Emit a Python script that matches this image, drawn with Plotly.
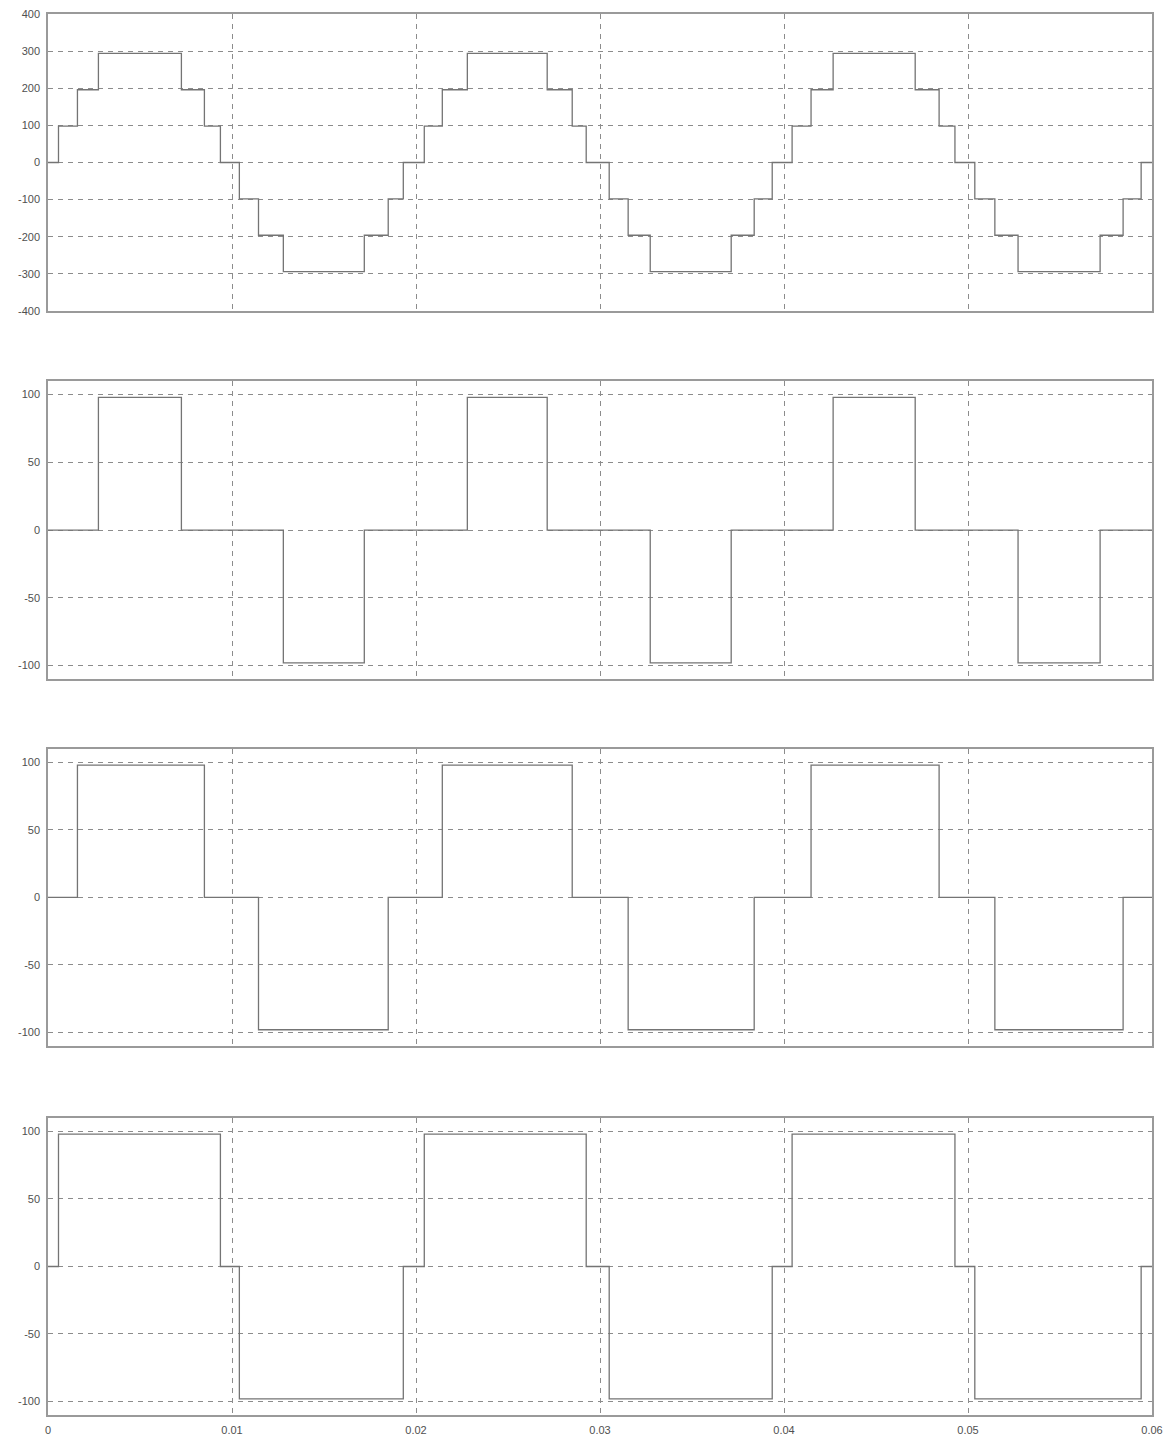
import plotly.graph_objects as go

# ---- data (switching instants in s, levels in V) ----
t_total = [0, 0.00057, 0.00160, 0.00274, 0.00725, 0.00850, 0.00937, 0.01040, 0.01144, 0.01279,
           0.01719, 0.01849, 0.01931, 0.02045, 0.02143, 0.02279, 0.02713, 0.02849, 0.02925,
           0.03050, 0.03153, 0.03273, 0.03713, 0.03838, 0.03936, 0.04044, 0.04147, 0.04267,
           0.04713, 0.04843, 0.04929, 0.05037, 0.05146, 0.05272, 0.05718, 0.05843, 0.05941, 0.06]
v_total = [0, 98, 196, 294, 196, 98, 0, -98, -196, -294,
           -196, -98, 0, 98, 196, 294, 196, 98, 0,
           -98, -196, -294, -196, -98, 0, 98, 196, 294,
           196, 98, 0, -98, -196, -294, -196, -98, 0, 0]

t_cell3 = [0, 0.00274, 0.00725, 0.01279, 0.01719, 0.02279, 0.02713, 0.03273, 0.03713,
           0.04267, 0.04713, 0.05272, 0.05718, 0.06]
v_cell3 = [0, 98, 0, -98, 0, 98, 0, -98, 0, 98, 0, -98, 0, 0]

t_cell2 = [0, 0.00160, 0.00850, 0.01144, 0.01849, 0.02143, 0.02849, 0.03153, 0.03838,
           0.04147, 0.04843, 0.05146, 0.05843, 0.06]
v_cell2 = [0, 98, 0, -98, 0, 98, 0, -98, 0, 98, 0, -98, 0, 0]

t_cell1 = [0, 0.00057, 0.00937, 0.01040, 0.01931, 0.02045, 0.02925, 0.03050, 0.03936,
           0.04044, 0.04929, 0.05037, 0.05941, 0.06]
v_cell1 = [0, 98, 0, -98, 0, 98, 0, -98, 0, 98, 0, -98, 0, 0]

x_ticks = [0, 0.01, 0.02, 0.03, 0.04, 0.05, 0.06]
x_tick_labels = ["0", "0.01", "0.02", "0.03", "0.04", "0.05", "0.06"]
y_ticks_top = [-400, -300, -200, -100, 0, 100, 200, 300, 400]
y_ticks_cell = [-100, -50, 0, 50, 100]

series = [(t_total, v_total), (t_cell3, v_cell3), (t_cell2, v_cell2), (t_cell1, v_cell1)]
domains = [[0.788, 1.0], [0.5253, 0.7380], [0.2634, 0.4754], [0.0, 0.2120]]
yranges = [[-400, 400], [-110, 110], [-110, 110], [-110, 110]]
yticks = [y_ticks_top, y_ticks_cell, y_ticks_cell, y_ticks_cell]

fig = go.Figure()
font = dict(family="Liberation Sans, Arial, sans-serif", size=11, color="#505050")

for i, (tx, vy) in enumerate(series):
    n = "" if i == 0 else str(i + 1)
    fig.add_trace(go.Scatter(
        x=tx, y=vy, mode="lines", line=dict(shape="hv", color="#747474", width=1.3),
        xaxis="x" + n, yaxis="y" + n, showlegend=False, hoverinfo="skip"))
    axis_common = dict(showline=True, linecolor="#9a9a9a", linewidth=1.5, mirror=True,
                       showgrid=True, gridcolor="#8c8c8c", gridwidth=1, griddash="5px,5px",
                       zeroline=False, ticks="", tickfont=font)
    fig.layout["xaxis" + n] = dict(
        axis_common, domain=[0, 1], range=[0, 0.06], anchor="y" + n,
        tickvals=x_ticks, ticktext=x_tick_labels, showticklabels=(i == 3),
        ticklabelstandoff=4, automargin=False)
    fig.layout["yaxis" + n] = dict(
        axis_common, domain=domains[i], range=yranges[i], anchor="x" + n,
        tickvals=yticks[i], ticktext=[str(v) for v in yticks[i]],
        ticklabelstandoff=4, automargin=False)

fig.update_layout(
    width=1173, height=1439,
    margin=dict(l=48, r=21, t=14, b=24),
    paper_bgcolor="white", plot_bgcolor="white",
    font=font,
)

fig.write_html("out.html", config={"displayModeBar": False},
               post_script="document.body.style.margin='0px';")
